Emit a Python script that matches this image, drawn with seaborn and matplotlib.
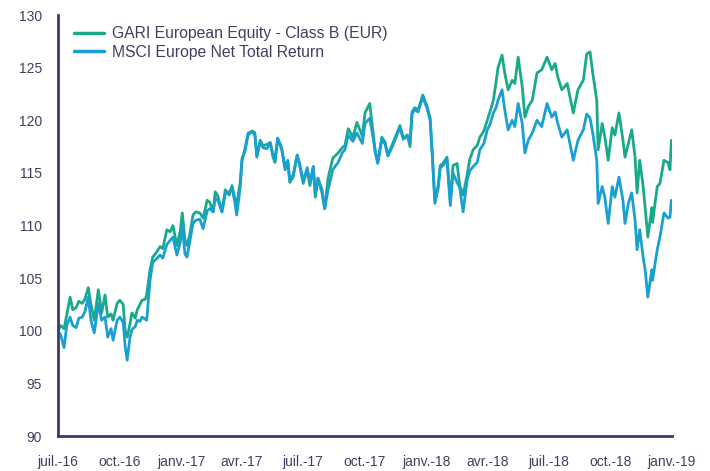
import matplotlib
matplotlib.use("Agg")
import matplotlib.pyplot as plt
import seaborn as sns
import pandas as pd
import numpy as np
from matplotlib.lines import Line2D

# ---- data ----
start_date = "2016-07-01"
day_offsets = [0, 4, 9, 13, 18, 22, 27, 31, 36, 40, 45, 49, 54, 60, 65, 70, 74, 79, 82, 88,
               92, 97, 100, 103, 107, 110, 115, 118, 122, 125, 130, 132, 137, 141, 146, 152, 156, 162, 167, 171,
               177, 182, 185, 189, 192, 196, 201, 205, 211, 216, 222, 226, 231, 234, 238, 244, 249, 255, 259, 263,
               266, 271, 274, 278, 283, 289, 293, 296, 301, 305, 311, 316, 320, 323, 327, 333, 338, 342, 345, 350,
               356, 360, 365, 371, 375, 380, 383, 387, 393, 397, 402, 409, 417, 423, 427, 432, 439, 445, 453, 457,
               464, 469, 472, 476, 482, 487, 491, 497, 502, 509, 514, 520, 524, 527, 531, 536, 543, 549, 554, 557,
               561, 566, 569, 573, 579, 584, 588, 594, 598, 603, 609, 613, 618, 624, 628, 634, 639, 643, 648, 652,
               655, 661, 665, 670, 676, 680, 685, 691, 695, 700, 706, 713, 720, 728, 735, 740, 744, 750, 758, 767,
               774, 782, 787, 792, 796, 802, 804, 810, 814, 819, 825, 829, 835, 841, 844, 849, 854, 859, 862, 866,
               871, 874, 878, 884, 885, 892, 896, 902, 908, 911, 913]

gari = [100.0, 100.5, 100.2, 101.5, 103.2, 102.0, 102.2, 102.8, 102.6, 103.0, 104.1, 102.5, 101.0, 103.9, 101.7, 103.4, 101.3, 101.6, 101.0, 102.6,
        102.9, 102.5, 100.0, 99.4, 100.6, 101.7, 101.2, 102.0, 102.5, 102.9, 103.0, 103.4, 105.8, 107.0, 107.4, 108.0, 107.8, 109.6, 109.4, 110.0,
        108.1, 109.5, 111.2, 108.6, 108.1, 109.1, 111.0, 111.3, 111.2, 110.7, 112.4, 112.2, 111.3, 113.2, 112.8, 111.3, 113.4, 112.9, 113.8, 112.6,
        112.0, 114.0, 116.4, 117.0, 118.6, 119.0, 118.8, 116.5, 118.1, 117.6, 117.7, 117.9, 116.5, 116.0, 118.3, 117.2, 115.3, 116.0, 114.1, 114.6,
        116.7, 115.6, 114.0, 115.3, 113.8, 115.6, 112.7, 114.5, 113.1, 111.6, 114.5, 116.4, 116.9, 117.4, 117.6, 119.2, 118.4, 119.8, 118.5, 120.7,
        121.6, 118.8, 117.2, 116.0, 118.4, 117.9, 116.7, 117.6, 118.4, 119.5, 118.3, 118.6, 117.5, 120.8, 121.2, 121.0, 122.4, 121.4, 120.2, 117.0,
        112.4, 113.8, 115.7, 115.9, 116.5, 112.3, 115.7, 115.9, 113.8, 112.9, 114.8, 116.3, 117.2, 117.6, 118.4, 119.0, 120.0, 120.8, 121.9, 123.6,
        125.0, 126.2, 124.5, 122.9, 123.8, 123.5, 126.0, 123.2, 120.3, 121.3, 121.9, 124.5, 124.8, 126.0, 124.8, 125.4, 124.1, 122.9, 123.5, 120.7,
        122.9, 123.8, 126.3, 126.5, 124.5, 121.9, 117.2, 119.7, 118.4, 116.2, 119.3, 118.6, 120.7, 118.1, 116.5, 117.8, 119.1, 116.5, 113.1, 116.2,
        113.7, 111.7, 108.9, 111.7, 110.3, 113.7, 114.0, 116.2, 116.0, 115.3, 118.1]

msci = [100.0, 99.6, 98.4, 100.5, 101.3, 100.5, 100.3, 101.2, 101.3, 101.8, 103.2, 101.0, 99.8, 102.6, 101.0, 101.3, 99.4, 100.2, 99.1, 101.0,
        101.3, 100.8, 98.5, 97.2, 99.3, 100.1, 100.4, 101.0, 100.9, 101.3, 101.1, 101.0, 104.8, 106.5, 106.8, 107.2, 106.9, 108.2, 108.6, 108.9,
        107.2, 108.4, 110.0, 107.3, 107.0, 108.4, 110.2, 110.5, 110.6, 109.7, 111.4, 111.6, 111.3, 112.6, 112.4, 111.3, 113.0, 113.2, 113.6, 112.3,
        111.0, 113.5, 116.2, 117.2, 118.8, 118.9, 118.6, 116.6, 118.0, 117.4, 117.3, 117.8, 116.8, 116.2, 118.3, 117.4, 115.5, 116.2, 114.4, 114.8,
        116.7, 115.8, 114.2, 115.5, 114.0, 115.6, 113.0, 114.5, 113.4, 111.6, 113.4, 115.3, 116.0, 116.9, 117.2, 118.6, 118.0, 118.8, 117.8, 119.7,
        120.2, 118.4, 117.0, 115.9, 118.2, 117.7, 116.6, 117.4, 118.2, 119.3, 118.2, 118.5, 117.9, 120.6, 121.0, 120.8, 122.2, 121.2, 120.0, 116.8,
        112.1, 113.6, 115.5, 115.7, 116.3, 111.9, 115.0, 114.1, 113.6, 111.3, 114.3, 115.2, 115.6, 116.0, 117.2, 117.8, 119.1, 119.6, 120.7, 121.2,
        121.9, 122.9, 121.0, 119.1, 120.0, 119.4, 121.6, 119.7, 116.9, 118.1, 118.8, 120.0, 119.4, 121.6, 120.3, 120.8, 119.7, 118.4, 119.1, 116.2,
        118.1, 119.1, 120.6, 120.2, 118.8, 116.2, 112.1, 113.7, 112.7, 110.2, 113.7, 112.7, 114.6, 112.4, 110.2, 112.1, 113.1, 110.5, 107.7, 109.6,
        107.0, 105.8, 103.2, 105.8, 104.8, 107.7, 108.9, 111.2, 110.7, 110.8, 112.4]

series_names = ["GARI European Equity - Class B (EUR)", "MSCI Europe Net Total Return"]
series_colors = ["#19A98B", "#1A9FD2"]

tick_dates = ["2016-07-01", "2016-10-01", "2017-01-01", "2017-04-01", "2017-07-01", "2017-10-01",
              "2018-01-01", "2018-04-01", "2018-07-01", "2018-10-01", "2019-01-01"]
tick_labels = ["juil.-16", "oct.-16", "janv.-17", "avr.-17", "juil.-17", "oct.-17",
               "janv.-18", "avr.-18", "juil.-18", "oct.-18", "janv.-19"]
y_ticks = [90, 95, 100, 105, 110, 115, 120, 125, 130]

# ---- build frame ----
dates = pd.Timestamp(start_date) + pd.to_timedelta(day_offsets, unit="D")
df = pd.concat([
    pd.DataFrame({"date": dates, "value": gari, "series": series_names[0]}),
    pd.DataFrame({"date": dates, "value": msci, "series": series_names[1]}),
], ignore_index=True)

sns.set_theme(style="white")
plt.rcParams["font.family"] = ["Liberation Sans", "DejaVu Sans"]

text_color = "#3f4060"
axis_color = "#3b3d63"

fig = plt.figure(figsize=(7.1, 4.71), dpi=100)
ax = fig.add_axes([0.0817, 0.0743, 0.8648, 0.8937])

sns.lineplot(data=df, x="date", y="value", hue="series", hue_order=series_names,
             palette=dict(zip(series_names, series_colors)), linewidth=2.0, ax=ax,
             legend=False, estimator=None)

ax.set_xlim(pd.Timestamp(tick_dates[0]), pd.Timestamp(tick_dates[-1]))
ax.set_ylim(90, 130)
ax.set_xticks(pd.to_datetime(tick_dates))
ax.set_xticklabels(tick_labels)
ax.set_yticks(y_ticks)
ax.set_yticklabels([str(v) for v in y_ticks])
ax.set_xlabel("")
ax.set_ylabel("")

for side in ["top", "right"]:
    ax.spines[side].set_visible(False)
for side in ["left", "bottom"]:
    ax.spines[side].set_color(axis_color)
    ax.spines[side].set_linewidth(2)

ax.tick_params(axis="both", which="major", direction="out", length=7.5, width=2,
               color=axis_color, labelcolor=text_color, labelsize=10)
ax.tick_params(axis="x", pad=6)
ax.tick_params(axis="y", pad=4)

handles = [Line2D([0], [0], color=c, lw=2.5) for c in series_colors]
leg = ax.legend(handles, series_names, loc="upper left", bbox_to_anchor=(0.008, 1.0),
                frameon=False, fontsize=11.3, handlelength=1.9, handletextpad=0.5,
                labelspacing=0.25, borderaxespad=0.3)
for t in leg.get_texts():
    t.set_color(text_color)

fig.savefig("out.png", dpi=100)
